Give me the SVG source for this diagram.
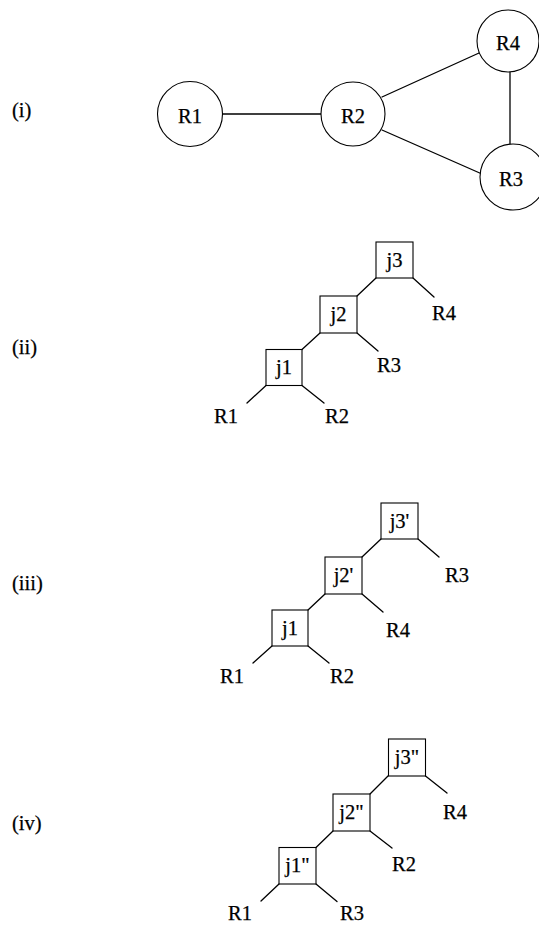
<svg xmlns="http://www.w3.org/2000/svg" width="539" height="930" viewBox="0 0 539 930">
  <style>
    .bg { fill: #ffffff; }
    .node circle, .node rect { fill: #ffffff; stroke: #000000; stroke-width: 1.1; }
    .edge line { stroke: #000000; stroke-width: 1.3; stroke-linecap: round; }
    text { font-family: "Liberation Serif", "Times New Roman", serif; font-size: 20.5px; fill: #000000; stroke: #000000; stroke-width: 0.25; }
    .c { text-anchor: middle; }
  </style>
  <rect class="bg" x="0" y="0" width="539" height="930"/>

  <!-- part labels -->
  <g id="labels">
    <text x="12" y="117">(i)</text>
    <text x="12" y="354">(ii)</text>
    <text x="12" y="590">(iii)</text>
    <text x="12" y="830">(iv)</text>
  </g>

  <!-- (i) join graph -->
  <g id="graph-edges" class="edge">
    <line x1="222.5" y1="114" x2="321" y2="114"/>
    <line x1="382" y1="97" x2="479" y2="53"/>
    <line x1="382" y1="130" x2="482" y2="174"/>
    <line x1="510" y1="72" x2="510" y2="144"/>
  </g>
  <g id="R1" class="node"><circle cx="190" cy="114" r="32.5"/><text class="c" x="190" y="122.5">R1</text></g>
  <g id="R2" class="node"><circle cx="353" cy="114" r="32"/><text class="c" x="353" y="122.5">R2</text></g>
  <g id="R4" class="node"><circle cx="508" cy="41" r="31"/><text class="c" x="508" y="49.5">R4</text></g>
  <g id="R3" class="node"><circle cx="513" cy="177" r="33"/><text class="c" x="511" y="185.5">R3</text></g>

  <!-- (ii) plan R1-R2-R3-R4 -->
  <g id="plan2-edges" class="edge">
    <line x1="266" y1="385.5" x2="247" y2="403"/>
    <line x1="302" y1="385.5" x2="324" y2="403"/>
    <line x1="302" y1="349.5" x2="320" y2="333"/>
    <line x1="357" y1="333" x2="378" y2="351"/>
    <line x1="357" y1="296" x2="376" y2="278"/>
    <line x1="413" y1="278" x2="434" y2="297"/>
  </g>
  <g id="j1-a" class="node"><rect x="266" y="349.5" width="36" height="36"/><text class="c" x="284" y="374">j1</text></g>
  <g id="j2-a" class="node"><rect x="320" y="296" width="37" height="37"/><text class="c" x="338.5" y="321">j2</text></g>
  <g id="j3-a" class="node"><rect x="376" y="242" width="37" height="36"/><text class="c" x="394.5" y="267">j3</text></g>
  <g id="leaves2">
    <text x="214" y="423">R1</text>
    <text x="325" y="423">R2</text>
    <text x="377" y="372">R3</text>
    <text x="432" y="320">R4</text>
  </g>

  <!-- (iii) plan R1-R2-R4-R3 -->
  <g id="plan3-edges" class="edge">
    <line x1="272" y1="646" x2="253" y2="663"/>
    <line x1="308" y1="646" x2="329" y2="663"/>
    <line x1="308" y1="610" x2="325" y2="594"/>
    <line x1="362" y1="594" x2="383" y2="612"/>
    <line x1="362" y1="557" x2="381" y2="539"/>
    <line x1="418" y1="539" x2="439" y2="557"/>
  </g>
  <g id="j1-b" class="node"><rect x="272" y="610" width="36" height="36"/><text class="c" x="290" y="634.5">j1</text></g>
  <g id="j2p" class="node"><rect x="325" y="557" width="37" height="37"/><text class="c" x="343.5" y="582">j2'</text></g>
  <g id="j3p" class="node"><rect x="381" y="503" width="37" height="36"/><text class="c" x="399.5" y="528">j3'</text></g>
  <g id="leaves3">
    <text x="220" y="683">R1</text>
    <text x="330" y="683">R2</text>
    <text x="386" y="637">R4</text>
    <text x="445" y="582">R3</text>
  </g>

  <!-- (iv) plan R1-R3-R2-R4 -->
  <g id="plan4-edges" class="edge">
    <line x1="279" y1="884" x2="261" y2="901"/>
    <line x1="316" y1="884" x2="337" y2="901.5"/>
    <line x1="316" y1="847.5" x2="333" y2="831"/>
    <line x1="370" y1="831" x2="392" y2="848"/>
    <line x1="370" y1="794" x2="388" y2="776"/>
    <line x1="425.5" y1="776" x2="447" y2="793"/>
  </g>
  <g id="j1pp" class="node"><rect x="279" y="847.5" width="37" height="36.5"/><text class="c" x="297.5" y="872">j1"</text></g>
  <g id="j2pp" class="node"><rect x="333" y="794" width="37" height="37"/><text class="c" x="351.5" y="819">j2"</text></g>
  <g id="j3pp" class="node"><rect x="388.5" y="739" width="37" height="37"/><text class="c" x="407" y="764">j3"</text></g>
  <g id="leaves4">
    <text x="228" y="920">R1</text>
    <text x="340" y="920">R3</text>
    <text x="392" y="871">R2</text>
    <text x="443" y="819">R4</text>
  </g>
</svg>
